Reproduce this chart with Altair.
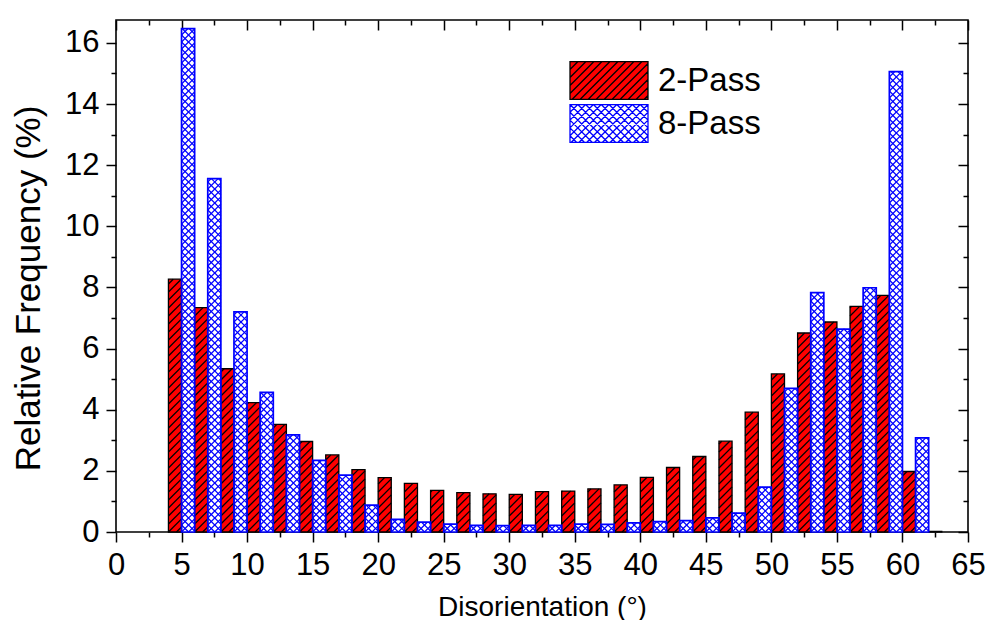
import altair as alt
import pandas as pd
import numpy as np

# ---------------- data ----------------
bin_centers = list(range(5, 64, 2))  # 5, 7, ..., 63 (2° bins)
pass2 = [8.27, 7.34, 5.34, 4.23, 3.52, 2.96, 2.52, 2.04, 1.78, 1.59,
         1.36, 1.29, 1.25, 1.23, 1.32, 1.34, 1.41, 1.54, 1.79, 2.11,
         2.47, 2.97, 3.92, 5.17, 6.51, 6.87, 7.38, 7.74, 1.98, 0.02]
pass8 = [16.47, 11.56, 7.20, 4.57, 3.18, 2.34, 1.86, 0.88, 0.41, 0.32,
         0.26, 0.22, 0.21, 0.22, 0.22, 0.26, 0.25, 0.30, 0.34, 0.37,
         0.46, 0.62, 1.47, 4.70, 7.83, 6.64, 7.99, 15.06, 3.08, 0.0]
series_names = ["2-Pass", "8-Pass"]
x_major = list(range(0, 66, 5))
x_minor = [2.5 + 5 * i for i in range(13)]
y_major = list(range(0, 17, 2))
y_minor = list(range(1, 16, 2))

# ---------------- layout / style ----------------
W, H = 852, 512
X_MAX, Y_MAX = 65, 16.75
KX, KY = W / X_MAX, H / Y_MAX
FONT = "Liberation Sans, Arial, sans-serif"
RED, BLUE = "#ff0000", "#0000ff"


def bar_table(values, shift):
    df = pd.DataFrame({"x0": [c - 1 + shift for c in bin_centers],
                       "x1": [c + shift for c in bin_centers],
                       "v": values})
    return df[df["v"] > 0].reset_index(drop=True)


def hatch_table(df, spacing, dirs):
    """Diagonal hatch segments (45° on screen) clipped to each bar."""
    rows = []
    for x0, x1, v in zip(df["x0"], df["x1"], df["v"]):
        bw = (x1 - x0) * KX
        bh = v * KY
        for d in dirs:
            if d == "/":
                k0 = int(np.ceil(-bw / spacing))
                k1 = int(np.floor(bh / spacing))
                for k in range(k0, k1 + 1):
                    off = k * spacing
                    us, ue = max(0.0, -off), min(bw, bh - off)
                    if ue - us > 0.4:
                        rows.append((x0 + us / KX, (us + off) / KY,
                                     x0 + ue / KX, (ue + off) / KY))
            else:
                for k in range(0, int(np.floor((bw + bh) / spacing)) + 1):
                    off = k * spacing
                    us, ue = max(0.0, off - bh), min(bw, off)
                    if ue - us > 0.4:
                        rows.append((x0 + us / KX, (off - us) / KY,
                                     x0 + ue / KX, (off - ue) / KY))
    return pd.DataFrame(rows, columns=["xa", "ya", "xb", "yb"])


def legend_path(spacing_px, dirs):
    s = 39.0
    hh = 19.0 / s
    step = spacing_px / s
    parts = ["M-1,%.3fH1V%.3fH-1Z" % (-hh, hh)]
    for d in dirs:
        c = -1 - hh
        while c <= 1 + hh:
            if d == "/":
                a, b = max(-1.0, c - hh), min(1.0, c + hh)
                if b - a > 1e-3:
                    parts.append("M%.3f,%.3fL%.3f,%.3f" % (a, c - a, b, c - b))
            else:
                a, b = max(-1.0, -hh - c), min(1.0, hh - c)
                if b - a > 1e-3:
                    parts.append("M%.3f,%.3fL%.3f,%.3f" % (a, a + c, b, b + c))
            c += step
    return "".join(parts)


red_df = bar_table(pass2, 0)
blue_df = bar_table(pass8, 1)
red_hatch = hatch_table(red_df, 8.0, ["/"])
blue_hatch = hatch_table(blue_df, 7.0, ["/", "\\"])
legend_df = pd.DataFrame({"series": series_names})

xs = alt.Scale(domain=[0, X_MAX], nice=False, zero=False)
ys = alt.Scale(domain=[0, Y_MAX], nice=False, zero=False)


def axis(orient, values, size, offset=None, labels=False, **kw):
    args = dict(orient=orient, values=values, tickSize=size, tickWidth=1.5,
                tickColor="black", domain=False, grid=False, labels=labels,
                title=None)
    if offset is not None:
        args["offset"] = offset
    args.update(kw)
    return alt.Axis(**args)


main_x = axis("bottom", x_major, 10, labels=True, labelFontSize=31,
              labelFont=FONT, labelColor="black", labelPadding=8,
              labelFlush=False, labelOverlap=False,
              title="Disorientation (°)", titleFontSize=28, titleFont=FONT,
              titleFontWeight="normal", titleColor="black", titleY=83,
              titleBaseline="alphabetic")
main_y = axis("left", y_major, 10, labels=True, labelFontSize=31,
              labelFont=FONT, labelColor="black", labelPadding=7,
              labelOverlap=False,
              title="Relative Frequency (%)", titleFontSize=35, titleFont=FONT,
              titleFontWeight="normal", titleColor="black", titleX=-88,
              titleY=268, titleBaseline="middle", titleAngle=270)
minor_x = axis("bottom", x_minor, 5)
minor_y = axis("left", y_minor, 5)
top_major = axis("bottom", x_major, 10, offset=-H)
top_minor = axis("bottom", x_minor, 5, offset=-H)
right_major = axis("left", y_major, 10, offset=-W)
right_minor = axis("left", y_minor, 5, offset=-W)

red_fill = alt.Chart(red_df).mark_rect(fill=RED, strokeWidth=0).encode(
    x=alt.X("x0:Q", scale=xs, axis=main_x), x2="x1:Q",
    y=alt.Y("v:Q", scale=ys, axis=main_y), y2=alt.datum(0))
blue_fill = alt.Chart(blue_df).mark_rect(fill="white", strokeWidth=0).encode(
    x=alt.X("x0:Q", scale=xs, axis=minor_x), x2="x1:Q",
    y=alt.Y("v:Q", scale=ys, axis=minor_y), y2=alt.datum(0))
red_lines = alt.Chart(red_hatch).mark_rule(color="black", strokeWidth=1.3).encode(
    x=alt.X("xa:Q", scale=xs, axis=top_major), x2="xb:Q",
    y=alt.Y("ya:Q", scale=ys, axis=right_major), y2="yb:Q")
blue_lines = alt.Chart(blue_hatch).mark_rule(color=BLUE, strokeWidth=1.25).encode(
    x=alt.X("xa:Q", scale=xs, axis=top_minor), x2="xb:Q",
    y=alt.Y("ya:Q", scale=ys, axis=right_minor), y2="yb:Q")
red_edge = alt.Chart(red_df).mark_rect(fillOpacity=0, stroke="black",
                                       strokeWidth=1.3).encode(
    x=alt.X("x0:Q", scale=xs, axis=None), x2="x1:Q",
    y=alt.Y("v:Q", scale=ys, axis=None), y2=alt.datum(0))
blue_edge = alt.Chart(blue_df).mark_rect(fillOpacity=0, stroke=BLUE,
                                         strokeWidth=1.7).encode(
    x=alt.X("x0:Q", scale=xs, axis=None), x2="x1:Q",
    y=alt.Y("v:Q", scale=ys, axis=None), y2=alt.datum(0))

leg = alt.Legend(title=None, orient="none", legendX=453, legendY=41,
                 symbolSize=6084, clipHeight=39, rowPadding=4, padding=0,
                 labelFontSize=33, labelFont=FONT, labelColor="black",
                 labelOffset=9, symbolStrokeWidth=1.3, symbolOpacity=1)
legend_layer = alt.Chart(legend_df).transform_filter("false").mark_point(
    filled=True, opacity=1).encode(
    fill=alt.Fill("series:N", scale=alt.Scale(domain=series_names,
                                              range=[RED, "white"]), legend=leg),
    stroke=alt.Stroke("series:N", scale=alt.Scale(domain=series_names,
                                                  range=["black", BLUE]), legend=leg),
    shape=alt.Shape("series:N", scale=alt.Scale(
        domain=series_names,
        range=[legend_path(8.0, ["/"]), legend_path(7.8, ["/", "\\"])]), legend=leg),
)

chart = alt.layer(
    red_fill, blue_fill, red_lines, blue_lines, red_edge, blue_edge, legend_layer
).resolve_axis(x="independent", y="independent").properties(
    width=W, height=H,
    autosize=alt.AutoSizeParams(type="none"),
    padding={"left": 116, "top": 20, "right": 20, "bottom": 88},
).configure(font=FONT).configure_view(stroke="black", strokeWidth=1.6)

chart.save("out.html", embed_options={"renderer": "svg", "actions": False})
